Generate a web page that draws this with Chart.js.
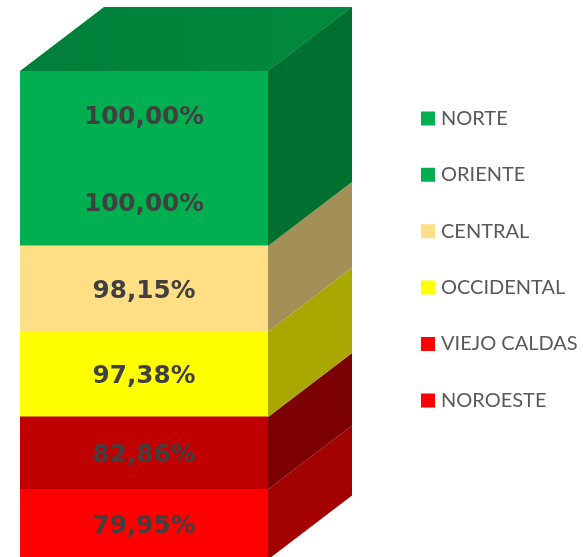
<!DOCTYPE html>
<html>
<head>
<meta charset="utf-8">
<title>Regiones</title>
<script src="https://cdn.jsdelivr.net/npm/chart.js@4"></script>
<style>
  html, body { margin: 0; padding: 0; background: #fff; overflow: hidden; }
  /* la columna llega hasta el cero, un poco por debajo del borde de la imagen */
  #marco { width: 583px; height: 557px; overflow: hidden; }
  canvas { display: block; }
</style>
</head>
<body>
<div id="marco"><canvas id="grafico" width="583" height="561"></canvas></div>
<script>
// Datos, de abajo hacia arriba en la pila
const regiones = ['NOROESTE', 'VIEJO CALDAS', 'OCCIDENTAL', 'CENTRAL', 'ORIENTE', 'NORTE'];
const valores = [79.95, 82.86, 97.38, 98.15, 100, 100];
const coloresFrente = ['#FF0000', '#C00000', '#FFFF00', '#FFDF85', '#00B050', '#00B050'];
const coloresLado = ['#A30000', '#7C0000', '#A8A800', '#A39056', '#007030', '#007030'];
const coloresLeyenda = ['#FF0000', '#FF0000', '#FFFF00', '#FFDF85', '#00B050', '#00B050'];

const PROF_X = 84;
const PROF_Y = 64;

// Dibuja las caras lateral y superior a partir de las barras ya calculadas
const caras3d = {
    id: 'caras3d',
    beforeDatasetsDraw(chart) {
        const ctx = chart.ctx;
        ctx.save();
        chart.data.datasets.forEach((ds, i) => {
            const bar = chart.getDatasetMeta(i).data[0];
            const der = bar.x + bar.width / 2;
            // el segmento siguiente tiene el mismo color: se prolonga para no dejar costura
            const arriba = (i < coloresLado.length - 1 && coloresLado[i + 1] === coloresLado[i])
                ? chart.getDatasetMeta(i + 1).data[0].y : bar.y;
            ctx.fillStyle = coloresLado[i];
            ctx.beginPath();
            ctx.moveTo(der, arriba);
            ctx.lineTo(der + PROF_X, arriba - PROF_Y);
            ctx.lineTo(der + PROF_X, bar.base - PROF_Y);
            ctx.lineTo(der, bar.base);
            ctx.closePath();
            ctx.fill();
        });

        const ultima = chart.getDatasetMeta(chart.data.datasets.length - 1).data[0];
        const izq = ultima.x - ultima.width / 2;
        const der = ultima.x + ultima.width / 2;
        const degradado = ctx.createLinearGradient(izq, 0, der + PROF_X, 0);
        degradado.addColorStop(0, '#007F3A');
        degradado.addColorStop(1, '#008A3E');
        ctx.fillStyle = degradado;
        ctx.beginPath();
        ctx.moveTo(izq, ultima.y);
        ctx.lineTo(izq + PROF_X, ultima.y - PROF_Y);
        ctx.lineTo(der + PROF_X, ultima.y - PROF_Y);
        ctx.lineTo(der, ultima.y);
        ctx.closePath();
        ctx.fill();
        ctx.restore();
    },
    // Etiquetas de porcentaje sobre cada segmento
    afterDatasetsDraw(chart) {
        const ctx = chart.ctx;
        ctx.save();
        ctx.font = 'bold 24.7px "DejaVu Sans"';
        ctx.fillStyle = '#404040';
        ctx.textAlign = 'center';
        ctx.textBaseline = 'middle';
        chart.data.datasets.forEach((ds, i) => {
            const bar = chart.getDatasetMeta(i).data[0];
            const texto = ds.data[0].toFixed(2).replace('.', ',') + '%';
            ctx.fillText(texto, bar.x, (bar.y + bar.base) / 2 + 2.5);
        });
        ctx.restore();
    }
};

// La leyenda se coloca a la derecha de la columna, fuera del área del gráfico
const ubicarLeyenda = {
    id: 'ubicarLeyenda',
    afterLayout(chart) {
        const leyenda = chart.legend;
        leyenda.left = 388.6;
        leyenda.top = 72;
        leyenda.right = chart.width;
        leyenda.bottom = chart.height;
    }
};

new Chart(document.getElementById('grafico'), {
    type: 'bar',
    data: {
        labels: ['Regiones'],
        datasets: regiones.map((region, i) => ({
            label: region,
            data: [valores[i]],
            backgroundColor: coloresFrente[i],
            borderWidth: 0,
            inflateAmount: 0.5,
            barPercentage: 1,
            categoryPercentage: 1
        }))
    },
    options: {
        responsive: false,
        animation: false,
        layout: { padding: { left: 20, right: 315, top: 71, bottom: 1.5 } },
        scales: {
            x: { stacked: true, display: false },
            y: {
                stacked: true,
                display: false,
                min: 0,
                max: valores.reduce((a, b) => a + b, 0)
            }
        },
        plugins: {
            tooltip: { enabled: false },
            legend: {
                position: 'chartArea',
                align: 'start',
                reverse: true,
                labels: {
                    // con usePointStyle el cuadro mide boxHeight y boxWidth fija el hueco hasta el texto
                    usePointStyle: true,
                    pointStyle: 'rect',
                    boxWidth: 6,
                    boxHeight: 14,
                    padding: 36.4,
                    color: '#595959',
                    font: { family: 'Lato', size: 20 },
                    generateLabels(chart) {
                        const base = Chart.defaults.plugins.legend.labels.generateLabels(chart);
                        return base.map(item => ({
                            ...item,
                            fillStyle: coloresLeyenda[item.datasetIndex],
                            lineWidth: 0
                        }));
                    }
                }
            }
        }
    },
    plugins: [caras3d, ubicarLeyenda]
});
</script>
</body>
</html>
